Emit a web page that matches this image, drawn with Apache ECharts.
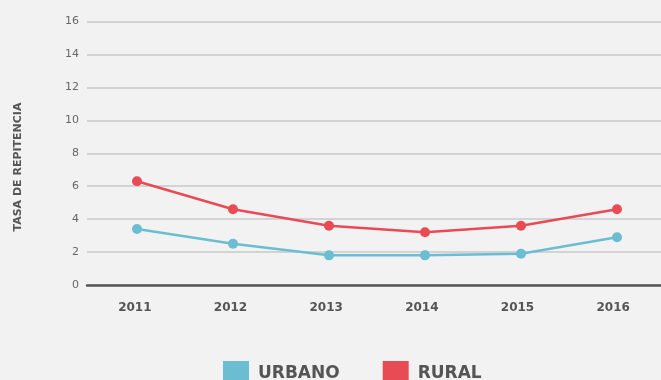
<!DOCTYPE html>
<html>
<head>
<meta charset="utf-8">
<script src="https://cdn.jsdelivr.net/npm/echarts@6/dist/echarts.min.js"></script>
<style>
  html, body { margin: 0; padding: 0; background: #f2f2f2; }
  #chart { width: 661px; height: 380px; }
</style>
</head>
<body>
<div id="chart"></div>
<script>
// Repetition rate by year, urban vs rural
const years = ['2011', '2012', '2013', '2014', '2015', '2016'];
const urbano = [3.4, 2.5, 1.8, 1.8, 1.9, 2.9];
const rural = [6.3, 4.6, 3.6, 3.2, 3.6, 4.6];
const yTicks = { min: 0, max: 16, interval: 2 };

const FONT = 'DejaVu Sans';
const TEXT = '#555555';
const TOP = 21.5, BOTTOM = 95;

const chart = echarts.init(document.getElementById('chart'));
chart.setOption({
  backgroundColor: '#f2f2f2',
  animation: false,
  textStyle: { fontFamily: FONT },
  grid: [
    // frame carrying the year axis and the horizontal grid lines
    { left: 87, right: -24, top: TOP, bottom: BOTTOM },
    // plotting area of the two lines
    { left: 137, right: 44, top: TOP, bottom: BOTTOM }
  ],
  xAxis: [
    {
      gridIndex: 0, type: 'category', data: years, boundaryGap: true,
      axisLine: { lineStyle: { color: '#555', width: 2.5 } },
      axisTick: { alignWithLabel: true, length: 5, lineStyle: { color: '#555', width: 2 } },
      axisLabel: { color: TEXT, fontSize: 12, fontWeight: 'bold', margin: 17, fontFamily: FONT }
    },
    {
      gridIndex: 1, type: 'category', data: years, boundaryGap: false, show: false
    }
  ],
  yAxis: [
    {
      gridIndex: 0, type: 'value', min: yTicks.min, max: yTicks.max, interval: yTicks.interval,
      axisLine: { show: false }, axisTick: { show: false },
      axisLabel: { color: '#666', fontSize: 11, margin: 8, fontFamily: FONT },
      splitLine: { lineStyle: { color: '#c8c8c8', width: 1.5 } }
    },
    {
      gridIndex: 1, type: 'value', min: yTicks.min, max: yTicks.max, interval: yTicks.interval, show: false
    }
  ],
  legend: {
    data: ['URBANO', 'RURAL'],
    left: 218, top: 356,
    itemWidth: 26, itemHeight: 26, itemGap: 43,
    icon: 'rect',
    textStyle: { color: TEXT, fontSize: 17, fontWeight: 'bold', fontFamily: FONT, padding: [0, 0, 0, 4] }
  },
  graphic: [{
    type: 'text',
    x: 18, y: 167, rotation: Math.PI / 2,
    style: {
      text: 'TASA DE REPITENCIA',
      fill: TEXT, font: 'bold 11px ' + FONT,
      align: 'center', verticalAlign: 'middle'
    }
  }],
  series: [
    {
      name: 'URBANO', type: 'line', xAxisIndex: 1, yAxisIndex: 1, data: urbano,
      symbol: 'circle', symbolSize: 10,
      lineStyle: { color: '#6bbdd2', width: 2.5 },
      itemStyle: { color: '#6bbdd2' }
    },
    {
      name: 'RURAL', type: 'line', xAxisIndex: 1, yAxisIndex: 1, data: rural,
      symbol: 'circle', symbolSize: 10,
      lineStyle: { color: '#e94b55', width: 2.5 },
      itemStyle: { color: '#e94b55' }
    }
  ]
});
</script>
</body>
</html>
